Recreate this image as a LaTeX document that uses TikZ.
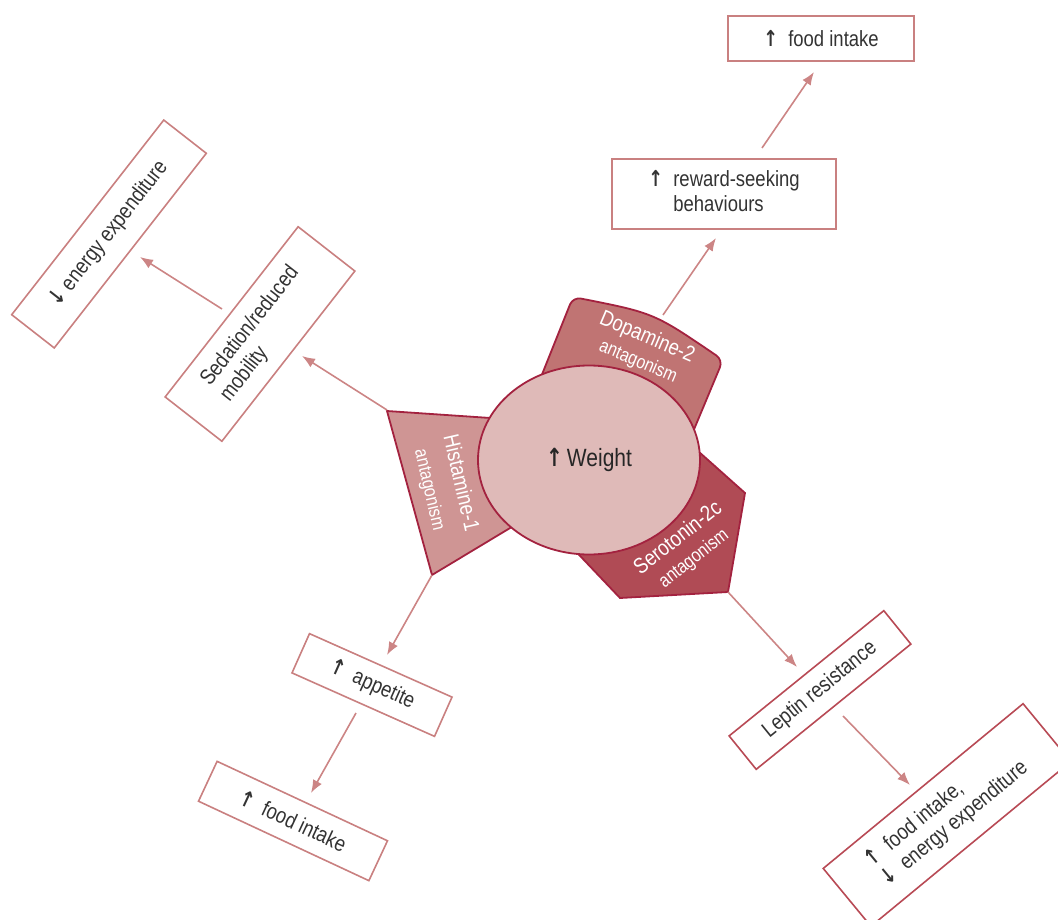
\documentclass[tikz,border=0pt]{standalone}
\usepackage{fontspec}
\setmainfont{Liberation Sans}[FakeStretch=0.84]
\newfontfamily\arrowfont{DejaVu Sans}[FakeStretch=0.8]
\usetikzlibrary{arrows.meta,shapes.geometric}
\definecolor{boxline}{HTML}{C98080}
\definecolor{boxdark}{HTML}{B84A55}
\definecolor{linkpink}{HTML}{CC8585}
\definecolor{rim}{HTML}{A3223F}
\definecolor{weightfill}{HTML}{DFBAB8}
\definecolor{dopfill}{HTML}{C07473}
\definecolor{hisfill}{HTML}{CF9594}
\definecolor{serfill}{HTML}{B04B55}
\definecolor{ink}{HTML}{333333}
\newcommand{\incr}{{\arrowfont\bfseries\char"2191}}
\newcommand{\decr}{{\arrowfont\bfseries\char"2193}}

\begin{document}
\begin{tikzpicture}[x=1pt,y=-1pt,
    effect/.style={draw=boxline,line width=1.6pt,fill=white,text=ink,
      font=\fontsize{22}{25}\selectfont,inner sep=0pt},
    darkeffect/.style={effect,draw=boxdark},
    blob/.style={draw=rim,line width=1.8pt},
    lbl/.style={text=white,font=\fontsize{22}{24}\selectfont,inner sep=0pt},
    sublbl/.style={text=white,font=\fontsize{19}{20}\selectfont,inner sep=0pt},
    link/.style={draw=linkpink,line width=1.6pt,-{Latex[length=13pt,width=10pt]}}]
  \useasboundingbox (0,0) rectangle (1058,920);

  % receptor blobs, drawn under the ellipse
  \draw[blob,fill=dopfill,rounded corners=8pt] (535,392) -- (573,297)
    .. controls (654,313) .. (723,360) -- (685,451) -- (600,440) -- cycle;
  \draw[blob,fill=serfill] (680,435) -- (745,493) -- (728,592) -- (620,598)
    -- (565,540) -- cycle;
  \draw[blob,fill=hisfill] (387,411) -- (520,420) -- (540,510) -- (432,575)
    -- cycle;
  \node[blob,fill=weightfill,ellipse,minimum width=222,minimum height=189,
    font=\fontsize{25}{28}\selectfont,text=black!85] (weight) at (589,460)
    {\incr\,Weight};

  \node[lbl,rotate=-23] (doplbl) at (647,338) {Dopamine-2};
  \node[sublbl,rotate=-23] (dopsub) at (638,362) {antagonism};
  \node[lbl,rotate=-77] (hislbl) at (462,483) {Histamine-1};
  \node[sublbl,rotate=-77] (hissub) at (429,490) {antagonism};
  \node[lbl,rotate=38] (serlbl) at (677,537) {Serotonin-2c};
  \node[sublbl,rotate=38] (sersub) at (694,559) {antagonism};

  % effect boxes
  \node[effect,minimum width=186,minimum height=45] (topfood) at (821,38.5)
    {\incr\ \ food intake};
  \node[effect,minimum width=224,minimum height=70] (reward) at (724,194)
    {\begin{tabular}{@{}l@{\ \ }l@{}}\incr & reward-seeking\\ & behaviours\end{tabular}};
  \node[effect,minimum width=247,minimum height=54,rotate=52] (energy) at (109,234)
    {\decr\ energy expenditure};
  \node[effect,minimum width=216,minimum height=72,rotate=52,align=left] (sedation)
    at (260,334) {Sedation/reduced\\mobility};
  \node[effect,minimum width=156,minimum height=43,rotate=-24] (appetite) at (372,685)
    {\incr\ \ appetite};
  \node[effect,minimum width=188,minimum height=44,rotate=-25] (lowfood) at (293,821)
    {\incr\ \ food intake};
  \node[darkeffect,minimum width=199,minimum height=43,rotate=39] (leptin) at (820,690)
    {Leptin resistance};
  \node[darkeffect,minimum width=259,minimum height=75,rotate=39.5] (outcome) at (947,815)
    {\begin{tabular}{@{}l@{\ \ }l@{}}\incr & food intake,\\ \decr & energy expenditure\end{tabular}};

  % connector ends
  \coordinate (dopEdge) at (663,315);  \coordinate (rewardIn) at (716,238);
  \coordinate (rewardOut) at (762,148); \coordinate (topfoodIn) at (814,72);
  \coordinate (hisNW) at (387,410);    \coordinate (sedationIn) at (302,356);
  \coordinate (sedationOut) at (222,309); \coordinate (energyIn) at (140,257);
  \coordinate (hisS) at (432,575);     \coordinate (appetiteIn) at (387,655);
  \coordinate (appetiteOut) at (356,713); \coordinate (lowfoodIn) at (311,793);
  \coordinate (serSE) at (728,592);    \coordinate (leptinIn) at (797,667);
  \coordinate (leptinOut) at (843,716); \coordinate (outcomeIn) at (910,785);

  \foreach \a/\b in {dopEdge/rewardIn,rewardOut/topfoodIn,hisNW/sedationIn,
      sedationOut/energyIn,hisS/appetiteIn,appetiteOut/lowfoodIn,
      serSE/leptinIn,leptinOut/outcomeIn}
    \draw[link] (\a) -- (\b);
\end{tikzpicture}
\end{document}
